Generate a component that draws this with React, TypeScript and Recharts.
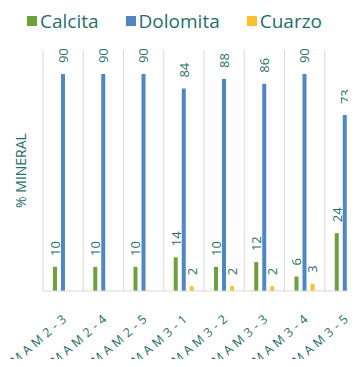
import React from "react";
import { BarChart, Bar, XAxis, YAxis, CartesianGrid, Legend, LabelList } from "recharts";

const categories = ["CMAM2-3", "CMAM2-4", "CMAM2-5", "CMAM3-1", "CMAM3-2", "CMAM3-3", "CMAM3-4", "CMAM3-5"];
const calcita = [10, 10, 10, 14, 10, 12, 6, 24];
const dolomita = [90, 90, 90, 84, 88, 86, 90, 73];
const cuarzo: (number | null)[] = [null, null, null, 2, 2, 2, 3, 3];

const seriesNames = ["Calcita", "Dolomita", "Cuarzo"];
const seriesColors = ["#6fa03e", "#4f86c4", "#fbc02d"];
const yLabel = "% MINERAL";

const data = categories.map((c, i) => ({
  name: c,
  Calcita: calcita[i],
  Dolomita: dolomita[i],
  Cuarzo: cuarzo[i],
}));

const TEAL = "#1f6e6c";
const FONT = "'Open Sans', sans-serif";

const ValueLabel = (props: any) => {
  const { x, y, width, value } = props;
  if (value === null || value === undefined) return null;
  const cx = x + width / 2 + 5;
  const ty = y - 11;
  return (
    <text
      x={cx}
      y={ty}
      transform={`rotate(-90, ${cx}, ${ty})`}
      textAnchor="start"
      fontSize={13}
      fontFamily={FONT}
      fill={TEAL}
    >
      {value}
    </text>
  );
};

const XTick = (props: any) => {
  const { x, y, payload } = props;
  const tx = x + 7;
  const ty = y + 19;
  return (
    <g transform={`translate(${tx}, ${ty}) rotate(-41)`}>
      <text
        x={0}
        y={0}
        textAnchor="end"
        fontSize={12.5}
        letterSpacing={4}
        fontFamily={FONT}
        fill={TEAL}
      >
        {payload.value}
      </text>
    </g>
  );
};

const LegendContent = (props: any) => {
  const { payload } = props;
  return (
    <div style={{ display: "flex", height: 40, paddingLeft: 27, fontFamily: FONT }}>
      {(payload || []).map((p: any, i: number) => (
        <div key={i} style={{ display: "flex", alignItems: "center", height: 22, marginRight: 27 }}>
          <span style={{ display: "inline-block", width: 10, height: 10, background: p.color, marginRight: 3 }} />
          <span style={{ fontSize: 19, lineHeight: "22px", color: TEAL }}>{p.value}</span>
        </div>
      ))}
    </div>
  );
};

export default function App() {
  return (
    <div style={{ position: "relative", margin: -8, width: 356, height: 367, overflow: "hidden", background: "#fff" }}>
      <BarChart
        width={370}
        height={367}
        data={data}
        margin={{ top: 10, right: 5, bottom: 0, left: 0 }}
        barSize={4}
        barGap={4}
      >
        <CartesianGrid
          horizontal={false}
          stroke="#d9d9d9"
          verticalCoordinatesGenerator={({ offset }: any) =>
            categories.map((_, i) => offset.left + (i * offset.width) / categories.length).concat([offset.left + offset.width])
          }
        />
        <Legend
          verticalAlign="top"
          itemSorter={null as any}
          content={<LegendContent />}
          wrapperStyle={{ left: 0, top: 10, width: 370 }}
        />
        <XAxis
          dataKey="name"
          tick={<XTick />}
          tickLine={false}
          axisLine={{ stroke: "#d9d9d9" }}
          interval={0}
          height={76}
        />
        <YAxis
          domain={[0, 100]}
          tick={false}
          tickLine={false}
          axisLine={false}
          width={43}
          label={{ value: yLabel, angle: -90, position: "center", fill: TEAL, fontSize: 14, fontFamily: FONT }}
        />
        {seriesNames.map((s, i) => (
          <Bar key={s} dataKey={s} fill={seriesColors[i]} isAnimationActive={false}>
            <LabelList dataKey={s} content={<ValueLabel />} />
          </Bar>
        ))}
      </BarChart>
    </div>
  );
}
